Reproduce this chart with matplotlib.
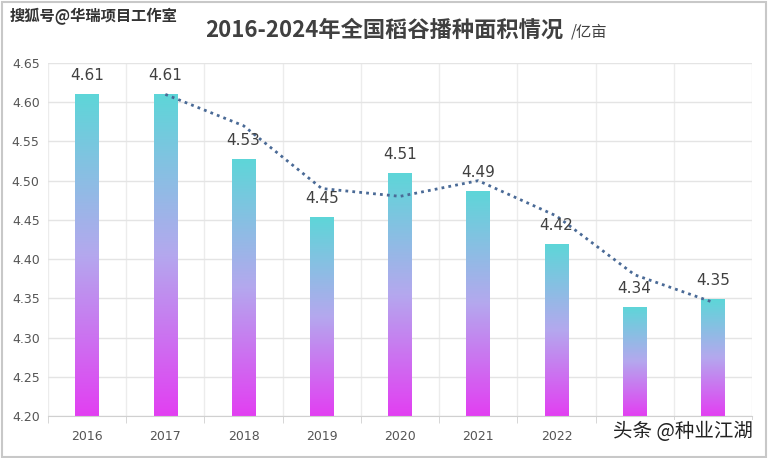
import matplotlib.pyplot as plt
import numpy as np
from matplotlib.colors import LinearSegmentedColormap

plt.rcParams['font.family'] = ['Noto Sans CJK SC', 'DejaVu Sans']

years = ['2016', '2017', '2018', '2019', '2020', '2021', '2022', '2023', '2024']
# the last two year labels are hidden behind the watermark in the reference
shown_labels = ['2016', '2017', '2018', '2019', '2020', '2021', '2022', '', '']
area = [4.61, 4.61, 4.53, 4.45, 4.51, 4.49, 4.42, 4.34, 4.35]
bar_heights = [4.611, 4.611, 4.528, 4.454, 4.510, 4.487, 4.419, 4.339, 4.349]
# 2-period moving average trend line (starts at 2017)
trend_years = ['2017', '2018', '2019', '2020', '2021', '2022', '2023', '2024']
trend = [4.61, 4.57, 4.49, 4.48, 4.50, 4.455, 4.38, 4.345]

fig = plt.figure(figsize=(7.68, 4.58), dpi=100)
ax = fig.add_axes([48 / 768, 42 / 458, 704 / 768, 353 / 458])

ymin, ymax = 4.20, 4.65
x = np.arange(len(years))
bars = ax.bar(x, [h - ymin for h in bar_heights], bottom=ymin, width=0.3,
              color='none', edgecolor='none', zorder=2)

cmap = LinearSegmentedColormap.from_list('grad', ['#e23ff2', '#b4a8ee', '#5dd6d8'])
grad = np.linspace(0, 1, 256).reshape(-1, 1)
for b, h in zip(bars, bar_heights):
    x0, w = b.get_x(), b.get_width()
    im = ax.imshow(grad, cmap=cmap, origin='lower', aspect='auto',
                   extent=[x0, x0 + w, ymin, h], zorder=2)
    im.set_clip_path(b)

xi = [years.index(y) for y in trend_years]
ax.plot(xi, trend, linestyle=(0, (1, 1.5)), color='#4a6a96', lw=2, zorder=3)

for xx, h, v in zip(x, bar_heights, area):
    ax.text(xx, h + 0.014, f'{v:.2f}', ha='center', va='bottom',
            fontsize=11, color='#404040', family='DejaVu Sans', zorder=4)

ax.set_xlim(-0.5, len(years) - 0.5)
ax.set_ylim(ymin, ymax)
ax.set_yticks(np.arange(4.20, 4.651, 0.05))
ax.set_yticklabels([f'{t:.2f}' for t in np.arange(4.20, 4.651, 0.05)],
                   family='DejaVu Sans')
ax.set_xticks(x)
ax.set_xticklabels(shown_labels, family='DejaVu Sans')
ax.set_xticks(np.arange(-0.5, len(years), 1), minor=True)
ax.tick_params(axis='y', length=0, labelsize=9, colors='#555555', pad=6)
ax.tick_params(axis='x', which='major', length=0, labelsize=9, colors='#555555', pad=10)
ax.tick_params(axis='x', which='minor', length=5, color='#d0d0d0')
ax.grid(axis='y', color='#e4e4e4', lw=1, zorder=0)
ax.grid(axis='x', which='minor', color='#ececec', lw=1, zorder=0)
for s in ['top', 'right', 'left']:
    ax.spines[s].set_visible(False)
ax.spines['bottom'].set_color('#d0d0d0')

fig.text(0.267, 0.935, '2016-2024年全国稻谷播种面积情况', fontsize=16,
         fontweight='bold', color='#404040', ha='left', va='center')
fig.text(0.743, 0.930, '/亿亩', fontsize=11, color='#404040', ha='left', va='center')
fig.text(0.013, 0.965, '搜狐号@华瑞项目工作室', fontsize=11, fontweight='bold',
         color='#333333', ha='left', va='center')
fig.text(0.98, 0.057, '头条 @种业江湖', fontsize=14, color='#222222',
         ha='right', va='center',
         bbox=dict(facecolor='white', edgecolor='none', pad=1))

fig.patches.append(plt.Rectangle((0.002, 0.002), 0.996, 0.994, transform=fig.transFigure,
                                 fill=False, edgecolor='#c8c8c8', lw=1.5))

fig.savefig('out.png', dpi=100)
